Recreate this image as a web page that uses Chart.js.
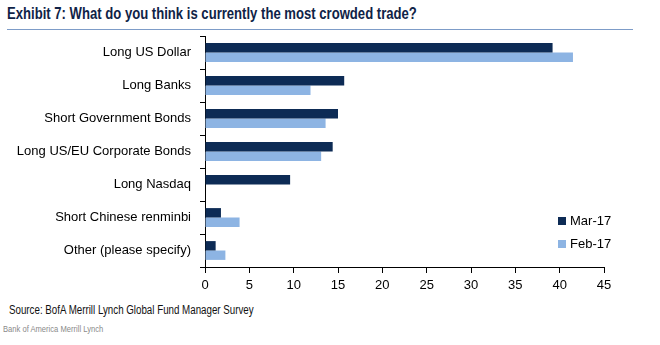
<!DOCTYPE html>
<html>
<head>
<meta charset="utf-8">
<script src="https://cdn.jsdelivr.net/npm/chart.js@4/dist/chart.umd.min.js"></script>
<style>
  body { margin:0; background:#fff; width:660px; height:345px; position:relative; overflow:hidden; font-family:"Liberation Sans", Arial, sans-serif; }
  #title { position:absolute; left:7px; top:5px; line-height:1; font-family:"Liberation Sans Narrow","Liberation Sans",sans-serif; font-weight:bold; font-size:17px; color:#0f2347; white-space:nowrap; transform-origin:left top; }
  #rule { position:absolute; left:7px; top:29px; width:626px; height:1px; background:#7d9cc8; }
  #wrap { position:absolute; left:0; top:0; width:660px; height:300px; }
  #legend { position:absolute; left:558px; top:213px; font-size:13px; color:#000; }
  #legend div { height:23px; line-height:16px; white-space:nowrap; }
  #legend span.sw { display:inline-block; width:8px; height:8px; margin-right:4px; vertical-align:0px; }
  #source { position:absolute; left:9px; top:304px; line-height:1; font-family:"Liberation Sans Narrow","Liberation Sans",sans-serif; font-size:12.5px; color:#111; white-space:nowrap; transform-origin:left top; }
  #bank { position:absolute; left:3px; top:324px; line-height:1; font-size:9.5px; color:#8a8a8a; white-space:nowrap; transform-origin:left top; }
</style>
</head>
<body>
<div id="title">Exhibit 7: What do you think is currently the most crowded trade?</div>
<div id="rule"></div>
<div id="wrap"><canvas id="chart"></canvas></div>
<div id="legend"></div>
<div id="source">Source: BofA Merrill Lynch Global Fund Manager Survey</div>
<div id="bank">Bank of America Merrill Lynch</div>
<script>
var categories = ["Long US Dollar","Long Banks","Short Government Bonds","Long US/EU Corporate Bonds","Long Nasdaq","Short Chinese renminbi","Other (please specify)"];
var mar17 = [39.2, 15.7, 15.0, 14.4, 9.6, 1.8, 1.2];
var feb17 = [41.5, 11.9, 13.6, 13.1, null, 3.9, 2.3];
var seriesNames = ["Mar-17","Feb-17"];
var colors = ["#0d2b55","#8db4e3"];

// squeeze the condensed texts to the width they have in the exhibit
function fitWidth(id, w) {
  var el = document.getElementById(id);
  el.style.transform = 'scaleX(' + (w / el.offsetWidth) + ')';
}
fitWidth('title', 410);
fitWidth('source', 245);
fitWidth('bank', 100);

var legend = document.getElementById('legend');
seriesNames.forEach(function(name, i) {
  var d = document.createElement('div');
  d.innerHTML = '<span class="sw" style="background:' + colors[i] + '"></span>' + name;
  legend.appendChild(d);
});

Chart.defaults.font.family = '"Liberation Sans", Arial, sans-serif';
Chart.defaults.color = '#000';

new Chart(document.getElementById('chart'), {
  type: 'bar',
  data: {
    labels: categories,
    datasets: [
      { label: seriesNames[0], data: mar17, backgroundColor: colors[0], categoryPercentage: 0.57, barPercentage: 1.0 },
      { label: seriesNames[1], data: feb17, backgroundColor: colors[1], categoryPercentage: 0.57, barPercentage: 1.0 }
    ]
  },
  options: {
    indexAxis: 'y',
    responsive: true,
    maintainAspectRatio: false,
    animation: false,
    layout: { padding: { top: 36, right: 56, left: 0, bottom: 0 } },
    plugins: { legend: { display: false }, tooltip: { enabled: false } },
    scales: {
      x: {
        min: 0, max: 45,
        ticks: { stepSize: 5, font: { size: 13 }, padding: 5 },
        grid: { drawOnChartArea: false, tickLength: 6, color: '#000' },
        border: { color: '#000' },
        afterFit: function(scale) { scale.height = 33; }
      },
      y: {
        ticks: { font: { size: 13 }, padding: 9 },
        grid: { drawOnChartArea: false, offset: true, tickLength: 5, color: '#000' },
        border: { color: '#000' },
        afterFit: function(scale) { scale.width = 205; }
      }
    }
  }
});
</script>
</body>
</html>
